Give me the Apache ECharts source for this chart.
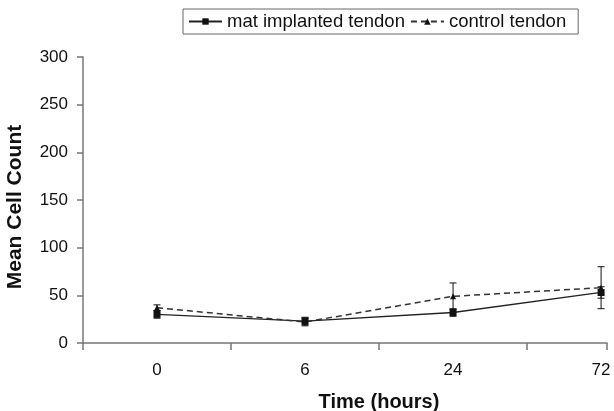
<!DOCTYPE html>
<html lang="en">
  <head>
    <meta charset="UTF-8" />
    <title>Mean Cell Count</title>
    <script src="https://cdn.jsdelivr.net/npm/echarts@6/dist/echarts.min.js"></script>
    <style>
      html, body { margin: 0; padding: 0; background: #fff; }
      #chart { width: 614px; height: 411px; }
    </style>
  </head>
  <body>
    <div id="chart"></div>
    <script>
      // time points (hours)
      const hours = ['0', '6', '24', '72'];
      const yTicks = [0, 50, 100, 150, 200, 250, 300];

      // mat implanted tendon: mean and error
      const matMean = [30, 23, 32, 53];
      const matErr = [4, 4, 4, 6];

      // control tendon: mean and error
      const ctrlMean = [37, 22, 49, 58];
      const ctrlErr = [3, 4, 14, 22];

      const font = 'Liberation Sans, Arial, sans-serif';

      function toPoints(mean) {
        return mean.map((v, i) => [i, v]);
      }
      function toBars(mean, err) {
        return mean.map((v, i) => [i, v - err[i], v + err[i]]);
      }

      function errorBar(params, api) {
        const lo = api.coord([api.value(0), api.value(1)]);
        const hi = api.coord([api.value(0), api.value(2)]);
        const w = 3.5;
        const style = { stroke: '#111', lineWidth: 1 };
        return {
          type: 'group',
          children: [
            { type: 'line', shape: { x1: lo[0], y1: lo[1], x2: hi[0], y2: hi[1] }, style: style },
            { type: 'line', shape: { x1: lo[0] - w, y1: lo[1], x2: lo[0] + w, y2: lo[1] }, style: style },
            { type: 'line', shape: { x1: hi[0] - w, y1: hi[1], x2: hi[0] + w, y2: hi[1] }, style: style }
          ]
        };
      }

      const chart = echarts.init(document.getElementById('chart'), null, { renderer: 'canvas' });

      chart.setOption({
        animation: false,
        backgroundColor: '#fff',
        textStyle: { fontFamily: font },
        grid: { left: 83, right: 7, top: 57, bottom: 68, outerBoundsMode: 'none', containLabel: false },
        legend: {
          left: 183,
          top: 9,
          padding: [3, 12, 3, 5],
          itemGap: 5,
          itemWidth: 33,
          itemHeight: 8,
          itemTextGap: 5,
          borderColor: '#666',
          borderWidth: 1,
          borderRadius: 0,
          textStyle: { fontSize: 18.5, color: '#111', fontFamily: font, lineHeight: 18 },
          data: ['mat implanted tendon', 'control tendon']
        },
        xAxis: {
          type: 'value',
          min: -0.5,
          max: 3.04,
          name: 'Time (hours)',
          nameLocation: 'middle',
          nameGap: 49,
          nameTextStyle: { fontSize: 20, fontWeight: 'bold', color: '#111', padding: [0, 0, 0, 68] },
          axisLine: { onZero: false, lineStyle: { color: '#777', width: 1.5 } },
          axisTick: { length: 7, customValues: [-0.5, 0.5, 1.5, 2.5, 3.04], lineStyle: { color: '#777', width: 1.5 } },
          axisLabel: {
            customValues: [0, 1, 2, 3],
            formatter: (v) => hours[Math.round(v)],
            fontSize: 17,
            color: '#111',
            margin: 19
          },
          splitLine: { show: false }
        },
        yAxis: {
          type: 'value',
          min: yTicks[0],
          max: yTicks[yTicks.length - 1],
          interval: 50,
          name: 'Mean Cell Count',
          nameLocation: 'middle',
          nameGap: 57,
          nameTextStyle: { fontSize: 21, fontWeight: 'bold', color: '#111', padding: [0, 14, 0, 0] },
          axisLine: { show: true, onZero: false, lineStyle: { color: '#777', width: 1.5 } },
          axisTick: { show: true, length: 6, lineStyle: { color: '#777', width: 1.5 } },
          axisLabel: { fontSize: 17, color: '#111', margin: 15 },
          splitLine: { show: false }
        },
        series: [
          {
            name: 'mat implanted tendon',
            type: 'line',
            data: toPoints(matMean),
            symbol: 'rect',
            symbolSize: 7,
            itemStyle: { color: '#111' },
            lineStyle: { color: '#222', width: 1.3, type: 'solid' },
            z: 3
          },
          {
            name: 'control tendon',
            type: 'line',
            data: toPoints(ctrlMean),
            symbol: 'triangle',
            symbolSize: 6,
            itemStyle: { color: '#111' },
            lineStyle: { color: '#333', width: 1.5, type: [6, 4] },
            z: 3
          },
          {
            name: 'mat err',
            type: 'custom',
            renderItem: errorBar,
            data: toBars(matMean, matErr),
            encode: { x: 0, y: [1, 2] },
            z: 2
          },
          {
            name: 'ctrl err',
            type: 'custom',
            renderItem: errorBar,
            data: toBars(ctrlMean, ctrlErr),
            encode: { x: 0, y: [1, 2] },
            z: 2
          }
        ]
      });
    </script>
  </body>
</html>
